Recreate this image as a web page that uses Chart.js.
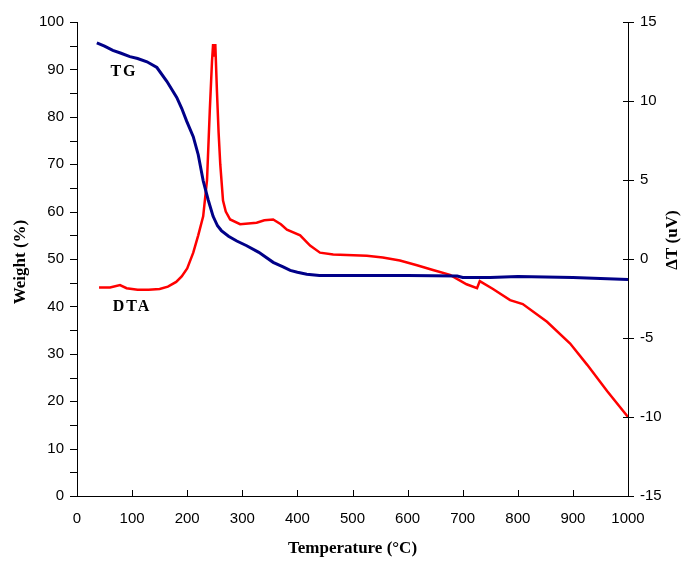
<!DOCTYPE html>
<html>
<head>
<meta charset="utf-8">
<script src="https://cdn.jsdelivr.net/npm/chart.js@4"></script>
<style>
  body { margin: 0; background: #fff; }
  #wrap { width: 682px; height: 565px; }
</style>
</head>
<body>
<div id="wrap"><canvas id="myChart" width="682" height="565"></canvas></div>
<script>
// TG curve: temperature (°C) and weight (%)
var tgTemp = [36, 50, 65, 80, 96, 110, 127, 145, 163, 181, 190, 199, 211, 220, 229, 238, 247, 255, 262, 275, 290, 308, 330, 356, 375, 387, 400, 417, 440, 500, 600, 690, 700, 750, 800, 850, 900, 950, 1000];
var tgWeight = [95.6, 94.9, 94.0, 93.4, 92.7, 92.3, 91.6, 90.4, 87.5, 84.1, 81.8, 79.1, 75.8, 72.0, 66.5, 62.5, 59.0, 57.0, 56.0, 54.8, 53.8, 52.8, 51.4, 49.3, 48.3, 47.6, 47.2, 46.8, 46.5, 46.5, 46.5, 46.4, 46.1, 46.1, 46.3, 46.2, 46.1, 45.9, 45.7];

// DTA curve: temperature (°C) and delta T (uV)
var dtaTemp = [40, 60, 78, 90, 110, 130, 150, 165, 180, 190, 200, 211, 220, 229, 236, 241, 245, 247, 249, 251, 254, 257, 260, 265, 270, 278, 296, 326, 340, 356, 370, 381, 405, 423, 441, 465, 526, 555, 586, 617, 646, 677, 707, 726, 731, 755, 786, 809, 853, 895, 926, 962, 1000];
var dtaDelta = [-1.8, -1.8, -1.65, -1.85, -1.95, -1.95, -1.9, -1.75, -1.45, -1.1, -0.6, 0.4, 1.5, 2.7, 5.0, 9.4, 12.5, 13.6, 12.8, 13.6, 10.6, 8.0, 6.0, 3.7, 3.0, 2.5, 2.2, 2.3, 2.45, 2.5, 2.2, 1.85, 1.5, 0.85, 0.4, 0.28, 0.2, 0.1, -0.1, -0.4, -0.7, -1.0, -1.6, -1.85, -1.4, -1.9, -2.6, -2.85, -3.97, -5.35, -6.7, -8.35, -10.0];

// axis ticks
var xTicks = [0, 100, 200, 300, 400, 500, 600, 700, 800, 900, 1000];
var leftTicks = [0, 10, 20, 30, 40, 50, 60, 70, 80, 90, 100];
var rightTicks = [-15, -10, -5, 0, 5, 10, 15];

function pairs(xs, ys) {
  return xs.map(function (x, i) { return { x: x, y: ys[i] }; });
}

var tickFont = { family: 'Liberation Sans', size: 15 };
function plain(v) { return String(v); }

// extra drawing: custom tick marks, axis titles, curve labels
var decor = {
  id: 'decor',
  afterDraw: function (chart) {
    var c = chart.ctx;
    var a = chart.chartArea;
    var sx = chart.scales.x, sy = chart.scales.y, sr = chart.scales.y1;
    c.save();
    c.strokeStyle = '#000';
    c.lineWidth = 1;
    c.beginPath();
    for (var v = 0; v <= 100; v += 5) {
      var py = Math.round(sy.getPixelForValue(v)) + 0.5;
      c.moveTo(a.left - 7, py); c.lineTo(a.left, py);
    }
    rightTicks.forEach(function (t) {
      var py = Math.round(sr.getPixelForValue(t)) + 0.5;
      c.moveTo(a.right - 5, py); c.lineTo(a.right + 6, py);
    });
    xTicks.forEach(function (t) {
      var px = Math.round(sx.getPixelForValue(t)) + 0.5;
      c.moveTo(px, a.bottom - 6); c.lineTo(px, a.bottom);
    });
    c.stroke();

    c.fillStyle = '#000';
    c.textAlign = 'center';
    c.textBaseline = 'middle';
    c.font = 'bold 17px "Liberation Serif"';
    c.fillText('Temperature (°C)', (a.left + a.right) / 2, 549);

    c.save();
    c.translate(21, 262);
    c.rotate(-Math.PI / 2);
    c.fillText('Weight (%)', 0, 0);
    c.restore();

    c.save();
    c.translate(673, 240);
    c.rotate(-Math.PI / 2);
    c.fillText('\u0394T (uV)', 0, 0);
    c.restore();

    c.font = 'bold 16px "Liberation Serif"';
    c.letterSpacing = '2px';
    c.fillText('TG', 124, 72);
    c.fillText('DTA', 132, 307);
    c.restore();
  }
};

var ctx = document.getElementById('myChart').getContext('2d');
var chart = new Chart(ctx, {
  type: 'line',
  data: {
    datasets: [{
      label: 'TG',
      data: pairs(tgTemp, tgWeight),
      borderColor: '#000088',
      borderWidth: 3,
      pointRadius: 0,
      yAxisID: 'y'
    }, {
      label: 'DTA',
      data: pairs(dtaTemp, dtaDelta),
      borderColor: '#ff0000',
      borderWidth: 2.5,
      pointRadius: 0,
      yAxisID: 'y1'
    }]
  },
  options: {
    responsive: false,
    animation: false,
    layout: { padding: { top: 17, left: 0, right: 0, bottom: 0 } },
    plugins: { legend: { display: false }, tooltip: { enabled: false } },
    scales: {
      x: {
        type: 'linear',
        min: 0, max: 1000,
        afterFit: function (s) { s.height = 69; },
        afterBuildTicks: function (s) { s.ticks = xTicks.map(function (v) { return { value: v }; }); },
        ticks: { font: tickFont, color: '#000', padding: 14, maxRotation: 0, callback: plain },
        grid: { drawOnChartArea: false, drawTicks: false },
        border: { color: '#000', width: 1 }
      },
      y: {
        position: 'left',
        min: 0, max: 100,
        afterFit: function (s) { s.width = 77; },
        afterBuildTicks: function (s) { s.ticks = leftTicks.map(function (v) { return { value: v }; }); },
        ticks: { font: tickFont, color: '#000', padding: 13, callback: plain },
        grid: { drawOnChartArea: false, drawTicks: false },
        border: { color: '#000', width: 1 }
      },
      y1: {
        position: 'right',
        min: -15, max: 15,
        afterFit: function (s) { s.width = 54; },
        afterBuildTicks: function (s) { s.ticks = rightTicks.map(function (v) { return { value: v }; }); },
        ticks: { font: tickFont, color: '#000', padding: 12, callback: plain },
        grid: { drawOnChartArea: false, drawTicks: false },
        border: { color: '#000', width: 1 }
      }
    }
  },
  plugins: [decor]
});
</script>
</body>
</html>
